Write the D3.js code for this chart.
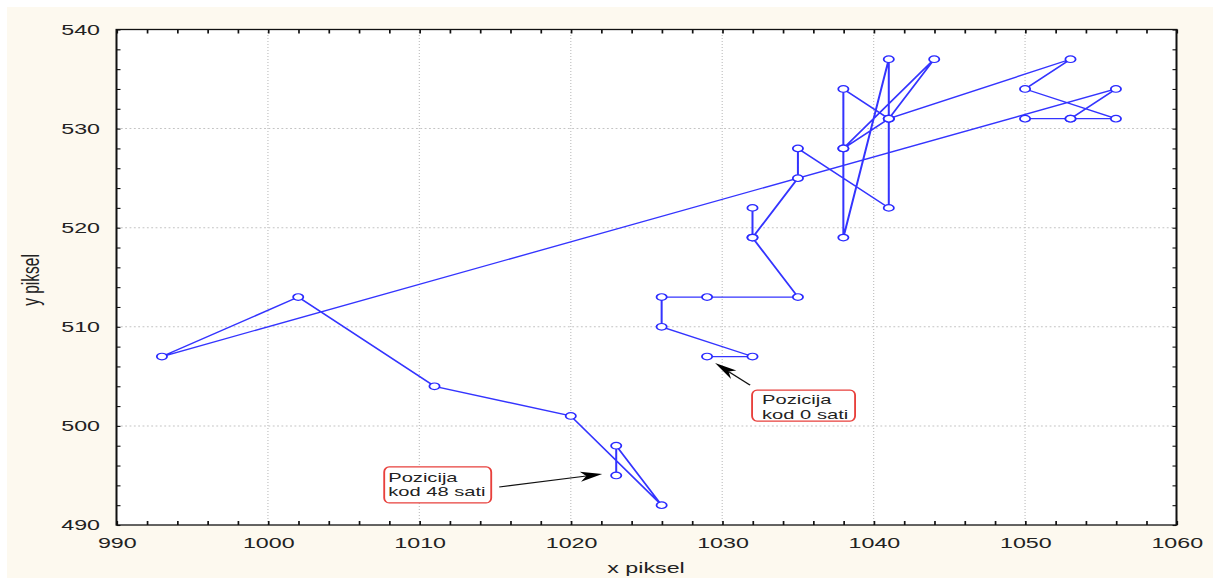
<!DOCTYPE html>
<html>
<head>
<meta charset="utf-8">
<script src="https://cdn.jsdelivr.net/npm/d3@7"></script>
<style>
  html, body { margin: 0; padding: 0; background: #ffffff; }
  svg { display: block; }
  text { font-family: "Liberation Sans", Arial, sans-serif; fill: #222; }
</style>
</head>
<body>
<svg id="chart" width="1213" height="578"></svg>
<script>
// ---- data (track of the position, in time order) ----
const xPiksel = [1029,1032,1026,1026,1029,1035,1032,1032,1032,1035,1035,1041,1041,1041,1038,1038,1038,1041,1044,1038,1041,1053,1050,1056,1053,1050,1053,1056,993,1002,1011,1020,1026,1023,1023];
const yPiksel = [507,507,510,513,513,513,519,522,519,525,528,522,531,537,519,528,534,531,537,528,531,537,534,531,531,531,531,534,507,513,504,501,492,498,495];
const xTicks = [990,1000,1010,1020,1030,1040,1050,1060];
const yTicks = [490,500,510,520,530,540];
const xMinor = d3.range(990, 1061, 2);
const yMinor = d3.range(490, 541, 2);
const xTitle = "x piksel";
const yTitle = "y piksel";
const annLines1 = ["Pozicija", "kod 48 sati"];
const annLines2 = ["Pozicija", "kod 0 sati"];
const annTarget1 = [1023, 495];
const annTarget2 = [1029, 507];

const points = xPiksel.map((x, i) => ({x, y: yPiksel[i]}));

// ---- layout ----
const SX = 1.55;            // horizontal stretch of the original picture
const W = 1213, H = 578;
const L = 116.5, R = 1176.5, T = 29.5, B = 525;

const svg = d3.select("#chart");
svg.append("rect").attr("x", 7).attr("y", 7).attr("width", W - 7).attr("height", H - 7).attr("fill", "#fdf9ef");

const g = svg.append("g").attr("transform", `scale(${SX},1)`);

const x = d3.scaleLinear().domain([990, 1060]).range([L / SX, R / SX]);
const y = d3.scaleLinear().domain([490, 540]).range([B, T]);

// plot background
g.append("rect").attr("x", x(990)).attr("y", y(540))
  .attr("width", x(1060) - x(990)).attr("height", y(490) - y(540)).attr("fill", "#fff");

// grid
g.append("g").selectAll("line").data(xTicks.filter(d => d > 990 && d < 1060)).join("line")
  .attr("x1", d => x(d)).attr("x2", d => x(d)).attr("y1", y(490)).attr("y2", y(540))
  .attr("stroke", "#c4c4c4").attr("stroke-width", 0.8).attr("stroke-dasharray", "1,2");
g.append("g").selectAll("line").data(yTicks.filter(d => d > 490 && d < 540)).join("line")
  .attr("x1", x(990)).attr("x2", x(1060)).attr("y1", d => y(d)).attr("y2", d => y(d))
  .attr("stroke", "#c4c4c4").attr("stroke-width", 1).attr("stroke-dasharray", "1.2,1.6");

// minor tick axes (inward) on four sides
function styleTicks(sel) {
  sel.select(".domain").remove();
  sel.selectAll("line").attr("stroke", "#111").attr("stroke-width", 1.1);
  sel.selectAll("text").remove();
}
g.append("g").attr("transform", `translate(0,${B})`)
  .call(d3.axisBottom(x).tickValues(xMinor).tickSize(-4)).call(styleTicks);
g.append("g").attr("transform", `translate(0,${T})`)
  .call(d3.axisTop(x).tickValues(xMinor).tickSize(-4)).call(styleTicks);
g.append("g").attr("transform", `translate(${x(990)},0)`)
  .call(d3.axisLeft(y).tickValues(yMinor).tickSize(-4 / SX)).call(styleTicks);
g.append("g").attr("transform", `translate(${x(1060)},0)`)
  .call(d3.axisRight(y).tickValues(yMinor).tickSize(-4 / SX)).call(styleTicks);

// frame
g.append("rect").attr("x", x(990)).attr("y", y(540))
  .attr("width", x(1060) - x(990)).attr("height", y(490) - y(540))
  .attr("fill", "none").attr("stroke", "#111").attr("stroke-width", 1.3);

// tick labels
const fmt = d3.format("d");
const xAx = g.append("g").attr("transform", `translate(0,${B})`)
  .call(d3.axisBottom(x).tickValues(xTicks).tickFormat(fmt).tickSize(0).tickPadding(12));
xAx.select(".domain").remove();
xAx.selectAll("text").attr("font-size", 15).attr("font-family", "Liberation Sans, Arial, sans-serif").attr("fill", "#2a2a2a");
const yAx = g.append("g").attr("transform", `translate(${x(990)},0)`)
  .call(d3.axisLeft(y).tickValues(yTicks).tickFormat(fmt).tickSize(0).tickPadding(16.5 / SX));
yAx.select(".domain").remove();
yAx.selectAll("text").attr("font-size", 15).attr("font-family", "Liberation Sans, Arial, sans-serif").attr("fill", "#2a2a2a");

// axis titles
g.append("text").attr("x", 646 / SX).attr("y", 573).attr("text-anchor", "middle")
  .attr("font-size", 15).text(xTitle);
g.append("text").attr("transform", `translate(${39 / SX},280) rotate(-90)`)
  .attr("text-anchor", "middle").attr("font-size", 15.5).text(yTitle);

// data line + markers
const line = d3.line().x(d => x(d.x)).y(d => y(d.y));
g.append("path").datum(points).attr("d", line)
  .attr("fill", "none").attr("stroke", "#3434ff").attr("stroke-width", 1.3)
  .attr("stroke-linejoin", "round");
g.append("g").selectAll("circle").data(points).join("circle")
  .attr("cx", d => x(d.x)).attr("cy", d => y(d.y)).attr("r", 3.3)
  .attr("fill", "#fff").attr("stroke", "#2a2aff").attr("stroke-width", 1.15);

// annotations (offsets in screen pixels from the target point)
function annotate(target, lines, box, textX, base1, tail, tip) {
  const tx = x(target[0]) * SX, ty = y(target[1]);
  const bx = tx + box[0], by = ty + box[1];
  g.append("rect").attr("x", bx / SX).attr("y", by)
    .attr("width", box[2] / SX).attr("height", box[3])
    .attr("rx", 5 / SX).attr("ry", 5)
    .attr("fill", "#fff").attr("stroke", "#e8403c").attr("stroke-width", 1.2);
  lines.forEach((s, i) => {
    g.append("text").attr("x", (bx + textX) / SX).attr("y", by + base1 + i * 14.5)
      .attr("font-size", 13).attr("fill", "#1a1a1a").text(s);
  });
  const p0 = [tx + tail[0], ty + tail[1]];
  const p1 = [tx + tip[0], ty + tip[1]];
  const dx = p1[0] - p0[0], dy = p1[1] - p0[1];
  const len = Math.hypot(dx, dy);
  const u = [dx / len, dy / len], n = [-u[1], u[0]];
  const HL = 22, HW = 5, NO = 6;
  const head = [
    p1,
    [p1[0] - u[0] * HL + n[0] * HW, p1[1] - u[1] * HL + n[1] * HW],
    [p1[0] - u[0] * (HL - NO), p1[1] - u[1] * (HL - NO)],
    [p1[0] - u[0] * HL - n[0] * HW, p1[1] - u[1] * HL - n[1] * HW]
  ];
  const neck = [p1[0] - u[0] * (HL - NO), p1[1] - u[1] * (HL - NO)];
  g.append("line").attr("x1", p0[0] / SX).attr("y1", p0[1]).attr("x2", neck[0] / SX).attr("y2", neck[1])
    .attr("stroke", "#111").attr("stroke-width", 1.1);
  g.append("polygon").attr("points", head.map(p => `${p[0] / SX},${p[1]}`).join(" "))
    .attr("fill", "#000");
}
annotate(annTarget1, annLines1, [-232, -8.5, 107, 36], 4, 15, [-117, 11.5], [-14, -1.5]);
annotate(annTarget2, annLines2, [45, 33.5, 103, 31], 10, 14, [43, 28.5], [8, 6.5]);
</script>
</body>
</html>
